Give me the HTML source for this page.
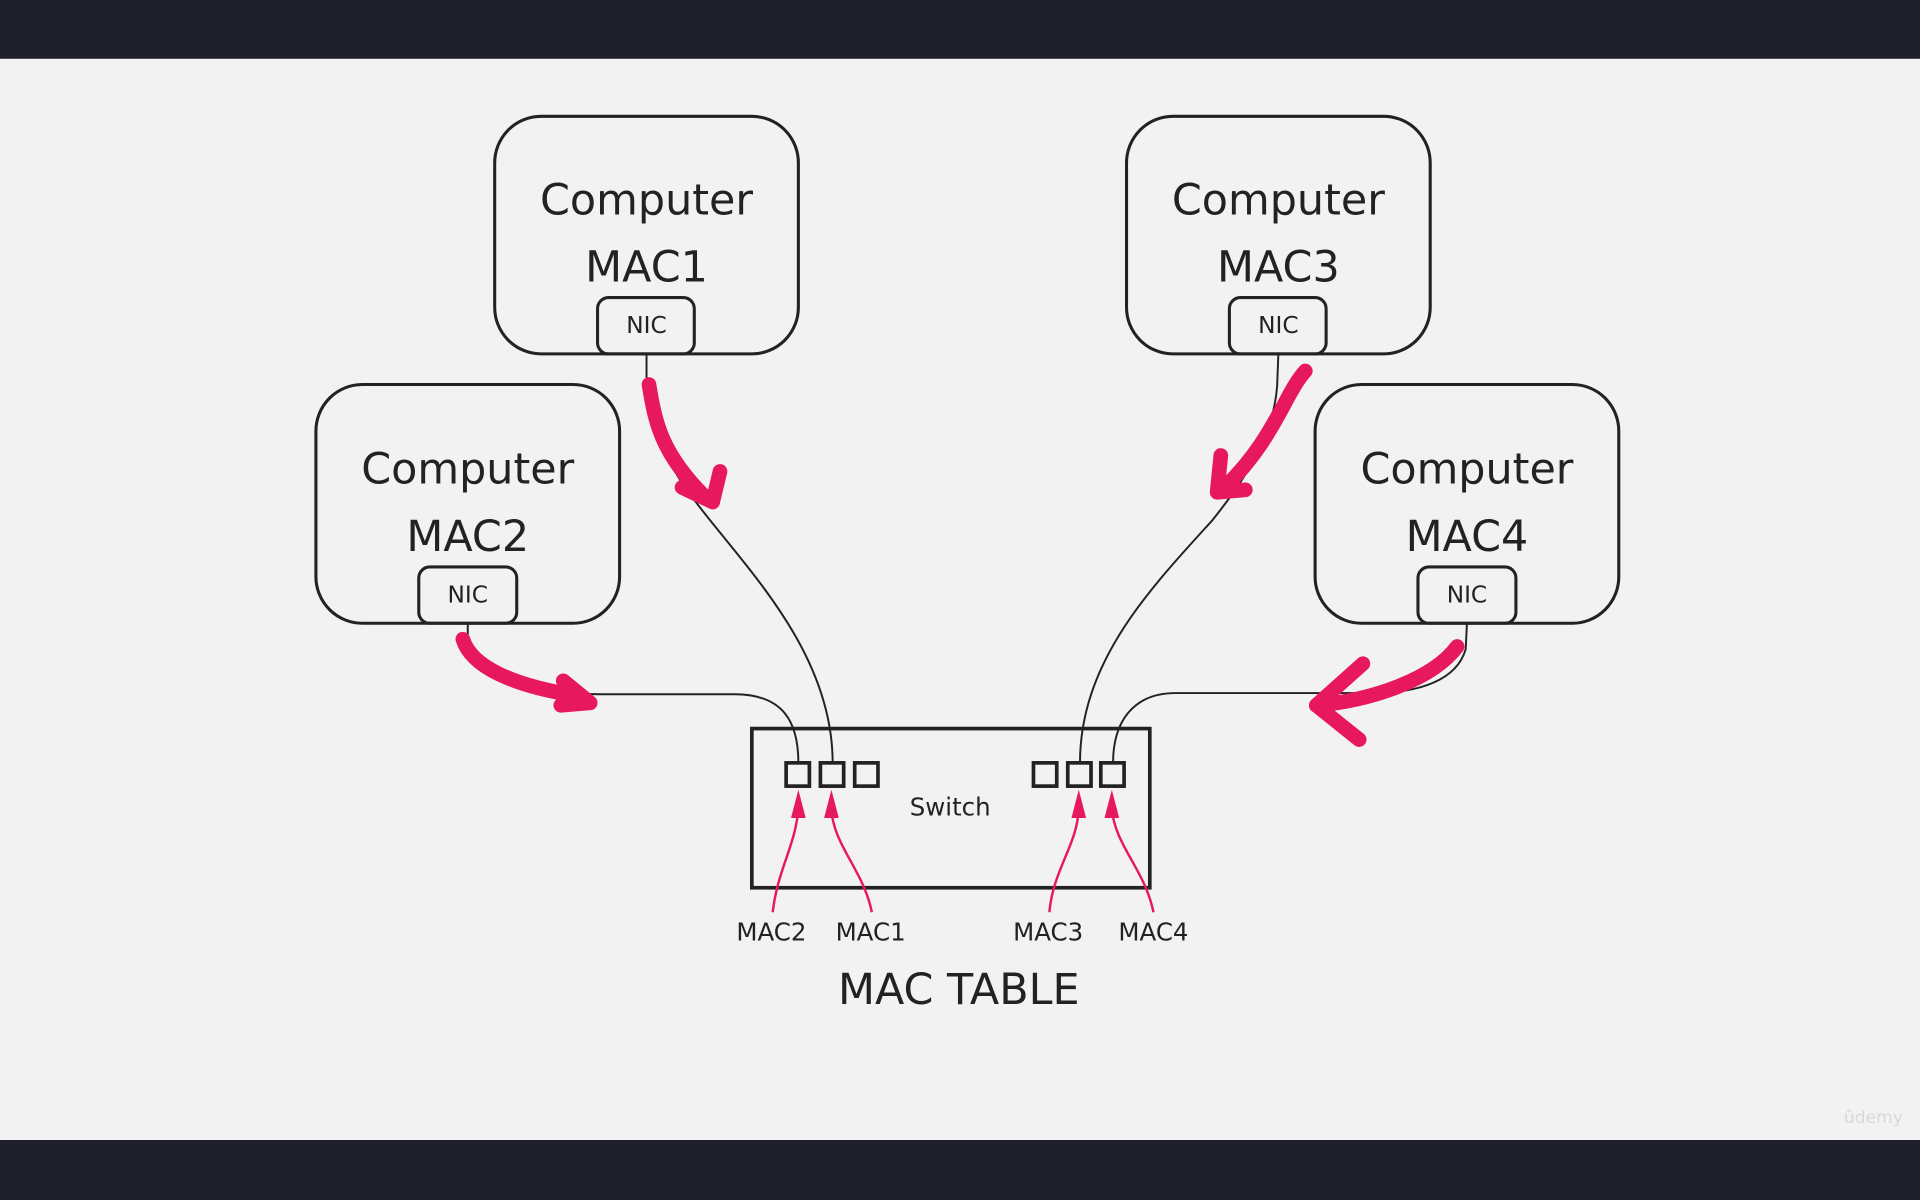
<!DOCTYPE html>
<html><head><meta charset="utf-8"><style>
html,body{margin:0;padding:0;background:#f2f2f2;}
svg{display:block;}
text{font-family:"DejaVu Sans","Liberation Sans",sans-serif;fill:#222;text-anchor:middle;}
</style></head><body>
<svg width="1920" height="1200" viewBox="0 0 1568 980" xmlns="http://www.w3.org/2000/svg">
<rect x="0" y="0" width="1568" height="980" fill="#f2f2f2"/>
<rect x="0" y="0" width="1568" height="48" fill="#1e1f2a"/>
<rect x="0" y="931" width="1568" height="49" fill="#1e1f2a"/>

<g fill="none" stroke="#222" stroke-width="2.5">
<rect x="404" y="95" width="248" height="194" rx="38"/>
<rect x="488" y="243" width="79" height="46" rx="9"/>
<rect x="258" y="314" width="248" height="195" rx="38"/>
<rect x="342" y="463" width="80" height="46" rx="9"/>
<rect x="920" y="95" width="248" height="194" rx="38"/>
<rect x="1004" y="243" width="79" height="46" rx="9"/>
<rect x="1074" y="314" width="248" height="195" rx="38"/>
<rect x="1158" y="463" width="80" height="46" rx="9"/>
</g>
<g fill="none" stroke="#222" stroke-width="3">
<rect x="614" y="595" width="325" height="130"/>
<rect x="642" y="623" width="19" height="19"/>
<rect x="670" y="623" width="19" height="19"/>
<rect x="698" y="623" width="19" height="19"/>
<rect x="844" y="623" width="19" height="19"/>
<rect x="872" y="623" width="19" height="19"/>
<rect x="899" y="623" width="19" height="19"/>
</g>
<g fill="none" stroke="#222" stroke-width="1.6">
<path d="M528 289 L528 310 C528 360 560 400 580 425 C620 475 680 540 680 623"/>
<path d="M382 509 L382 520 C390 550 430 567 490 567 L600 567 C640 567 652 590 652 623"/>
<path d="M1044 289 L1043 315 C1040 360 1010 400 990 425 C940 480 882 540 882 623"/>
<path d="M1198 509 L1197 530 C1190 555 1160 566 1120 566 L960 566 C925 566 909 590 909 623"/>
</g>
<text x="528" y="175" font-size="35">Computer</text>
<text x="528" y="230" font-size="35">MAC1</text>
<text x="528" y="272" font-size="19">NIC</text>
<text x="382" y="395" font-size="35">Computer</text>
<text x="382" y="450" font-size="35">MAC2</text>
<text x="382" y="492" font-size="19">NIC</text>
<text x="1044" y="175" font-size="35">Computer</text>
<text x="1044" y="230" font-size="35">MAC3</text>
<text x="1044" y="272" font-size="19">NIC</text>
<text x="1198" y="395" font-size="35">Computer</text>
<text x="1198" y="450" font-size="35">MAC4</text>
<text x="1198" y="492" font-size="19">NIC</text>
<text x="776" y="666" font-size="20" fill="#333">Switch</text>
<text x="630" y="768" font-size="20">MAC2</text>
<text x="711" y="768" font-size="20">MAC1</text>
<text x="856" y="768" font-size="20">MAC3</text>
<text x="942" y="768" font-size="20">MAC4</text>
<text x="783" y="820" font-size="35">MAC TABLE</text>
<text x="1530" y="917" font-size="14" style="fill:#d8d8d8">ûdemy</text>

<g fill="none" stroke="#e8185f" stroke-width="12" stroke-linecap="round" stroke-linejoin="round">
<path d="M530 314 C535 345 540 370 575 405"/>
<path d="M557 398 L582 410 L588 385"/>
<path d="M378 522 C385 545 420 560 470 568"/>
<path d="M460 556 L482 574 L458 576"/>
<path d="M1066 303 C1050 320 1040 360 1000 398"/>
<path d="M997 372 L994 402 L1017 400"/>
<path d="M1190 528 C1170 555 1120 572 1075 576"/>
<path d="M1113 542 L1075 576 L1110 604"/>
</g>
<g fill="none" stroke="#e8185f" stroke-width="2">
<path d="M631 745 C635 710 650 690 652 660"/>
<path d="M712 745 C705 710 680 690 679 660"/>
<path d="M857 745 C860 710 880 690 881 660"/>
<path d="M942 745 C935 710 910 690 908 660"/>
</g>
<g fill="#e8185f">
<path d="M652 645 L646 668 L658 668Z"/>
<path d="M679 645 L673 668 L685 668Z"/>
<path d="M881 645 L875 668 L887 668Z"/>
<path d="M908 645 L902 668 L914 668Z"/>
</g>
</svg>
</body></html>
